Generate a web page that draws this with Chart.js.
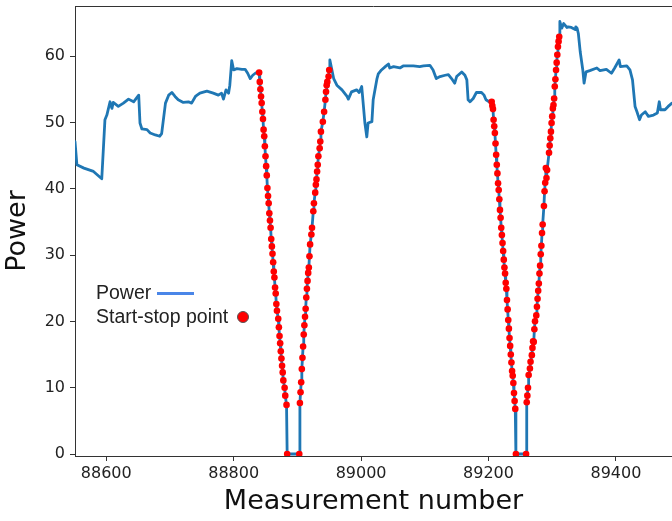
<!DOCTYPE html>
<html>
<head>
<meta charset="utf-8">
<script src="https://cdn.jsdelivr.net/npm/chart.js@4/dist/chart.umd.min.js"></script>
<style>
  html, body { margin: 0; padding: 0; background: #fff; }
  #wrap { position: relative; width: 672px; height: 521px; overflow: hidden; }
  .legend { position: absolute; left: 96px; font-family: 'Liberation Sans', Arial, sans-serif; font-size: 19.5px; color: #222; line-height: 1; white-space: nowrap; }
  .swatch-line { position: absolute; width: 37px; height: 3px; background: #4a86e8; }
  .swatch-dot { position: absolute; width: 12px; height: 12px; border-radius: 50%; background: #ff0000; border: 1px solid #555; box-sizing: border-box; }
</style>
</head>
<body>
<div id="wrap">
  <canvas id="chart" width="672" height="521"></canvas>
  <div class="legend" style="top:283px">Power</div>
  <div class="swatch-line" style="left:157px; top:292px"></div>
  <div class="legend" style="top:307px">Start-stop point</div>
  <div class="swatch-dot" style="left:237px; top:311px"></div>
</div>
<script>
// ── data ────────────────────────────────────────────────

const measurement = [
  88551, 88554, 88565, 88580, 88593, 88598, 88601, 88606, 88609, 88611,
  88619, 88627, 88635, 88643, 88651, 88653, 88656, 88664, 88669, 88677,
  88684, 88687, 88693, 88698, 88703, 88708, 88713, 88721, 88729, 88734,
  88740, 88747, 88758, 88768, 88776, 88781, 88784, 88788, 88792, 88794,
  88797, 88800, 88805, 88813, 88818, 88822, 88826, 88830, 88834, 88838,
  // first stop (down)
  88840, 88841, 88842, 88843, 88844, 88845, 88846, 88847, 88848, 88849,
  88850, 88851, 88852, 88853, 88854, 88855, 88856, 88857, 88858, 88859,
  88860, 88861, 88862, 88863, 88864, 88865, 88866, 88867, 88868, 88870,
  88871, 88872, 88873, 88874, 88875, 88876, 88877, 88878, 88880, 88881,
  88883, 88884, 88903,
  // first start (up)
  88904, 88905, 88906, 88907, 88908, 88909, 88910, 88911, 88912, 88913,
  88914, 88915, 88916, 88917, 88918, 88919, 88920, 88922, 88923, 88925,
  88926, 88928, 88929, 88930, 88931, 88932, 88933, 88935, 88936, 88937,
  88940, 88942, 88944, 88945, 88946, 88947, 88949, 88950,
  88951, 88957, 88962, 88970, 88978, 88980, 88985, 88993, 88997, 89001,
  89004, 89006, 89009, 89011, 89017, 89019, 89025, 89027, 89032, 89038,
  89043, 89045, 89051, 89061, 89066, 89082, 89092, 89098, 89108, 89113,
  89118, 89124, 89132, 89137, 89142, 89147, 89150, 89158, 89163, 89166,
  89168, 89171, 89176, 89181, 89189, 89193, 89196, 89201,
  // second stop (down)
  89205, 89206, 89207, 89208, 89209, 89210, 89211, 89212, 89213, 89214,
  89215, 89216, 89217, 89218, 89219, 89220, 89221, 89222, 89223, 89224,
  89225, 89226, 89227, 89228, 89229, 89230, 89231, 89232, 89233, 89234,
  89235, 89236, 89237, 89238, 89239, 89240, 89241, 89242, 89243, 89259,
  // second start (up)
  89260, 89261, 89262, 89263, 89265, 89266, 89268, 89269, 89270, 89271,
  89272, 89273, 89275, 89276, 89277, 89278, 89279, 89280, 89281, 89282,
  89283, 89284, 89285, 89287, 89288, 89289, 89290, 89291, 89292, 89295,
  89296, 89297, 89298, 89299, 89300, 89301, 89302, 89303, 89304, 89305,
  89306, 89307, 89308, 89309, 89310, 89311,
  89312, 89315, 89318, 89323, 89325, 89330, 89336, 89337, 89339, 89341,
  89344, 89348, 89350, 89353, 89359, 89370, 89375, 89385, 89393, 89398,
  89405, 89407, 89417, 89422, 89426, 89430, 89433, 89437, 89440, 89446,
  89451, 89459, 89465, 89468, 89470, 89477, 89482, 89488
];

const power = [
  47.1, 43.6, 43.1, 42.6, 41.5, 50.4, 51.1, 53.1, 52.1, 53.0,
  52.4, 52.9, 53.5, 53.1, 54.1, 49.9, 49.0, 48.9, 48.4, 48.1,
  47.9, 48.3, 52.9, 54.1, 54.5, 53.9, 53.4, 53.0, 53.1, 52.9,
  53.9, 54.4, 54.7, 54.4, 54.1, 54.4, 53.5, 54.9, 54.4, 55.6,
  59.3, 57.9, 58.1, 58.0, 58.0, 57.4, 56.6, 57.1, 57.4, 57.6,
  57.5, 56.1, 55.0, 53.9, 52.9, 51.6, 50.5, 48.9, 47.9, 46.4,
  44.9, 43.4, 42.0, 40.1, 38.9, 37.8, 36.3, 35.2, 34.1, 32.4,
  31.3, 30.2, 28.9, 27.5, 26.6, 25.1, 24.2, 22.6, 21.6, 20.4,
  19.1, 17.8, 16.7, 15.5, 14.4, 13.3, 12.3, 11.1, 10.0, 8.8,
  7.4, 0, 0,
  7.7, 9.3, 10.8, 12.8, 14.5, 16.2, 18.0, 19.4, 20.7, 21.9,
  23.6, 24.9, 26.1, 27.3, 28.1, 29.8, 31.6, 33.1, 34.1, 36.6,
  37.8, 39.4, 40.6, 41.4, 42.6, 43.6, 44.9, 46.1, 47.1, 48.6,
  50.1, 51.6, 53.4, 54.6, 55.6, 56.1, 56.9, 57.9,
  59.4, 56.6, 55.6, 54.9, 53.9, 53.5, 54.6, 54.9, 54.5, 55.4,
  52.1, 49.9, 47.8, 49.9, 50.1, 53.4, 56.6, 57.3, 57.9, 58.4,
  58.8, 58.2, 58.4, 58.2, 58.5, 58.5, 58.4, 58.5, 58.6, 57.9,
  56.6, 56.9, 57.1, 57.2, 56.6, 55.9, 56.9, 57.6, 57.1, 56.4,
  53.4, 53.1, 53.6, 54.5, 54.5, 54.1, 53.4, 53.1,
  53.1, 52.5, 52.0, 50.4, 49.4, 48.4, 46.8, 45.1, 43.6, 42.3,
  40.8, 39.8, 38.4, 36.8, 35.6, 34.1, 33.0, 31.8, 30.6, 29.3,
  28.1, 27.2, 25.8, 24.9, 23.2, 21.8, 20.2, 18.9, 17.5, 16.3,
  15.0, 13.8, 12.5, 11.8, 10.7, 9.2, 8.0, 6.8, 0, 0,
  7.8, 8.8, 10.0, 11.9, 12.9, 13.9, 14.9, 16.0, 17.0, 16.9,
  18.8, 20.0, 20.9, 22.2, 23.4, 24.6, 25.7, 27.2, 28.4, 30.1,
  31.4, 33.3, 34.6, 37.4, 39.6, 40.9, 43.1, 41.6, 42.8, 45.4,
  46.5, 47.6, 48.6, 49.9, 50.9, 52.1, 52.6, 53.6, 55.4, 56.5,
  57.9, 59.0, 60.2, 61.4, 62.2, 62.9,
  65.2, 64.2, 64.9, 64.3, 64.4, 64.3, 64.0, 64.4, 64.2, 63.4,
  60.6, 57.9, 55.9, 57.6, 57.8, 58.2, 57.8, 58.0, 57.4, 58.2,
  59.4, 58.4, 58.5, 57.9, 56.4, 52.4, 51.6, 50.4, 51.1, 51.6,
  50.9, 51.1, 51.4, 53.1, 51.9, 51.9, 52.4, 52.9
];

// measurement ranges flagged as start-stop points
const startStopRanges = [[88840, 88950], [89205, 89311]];

const xTicks = [88600, 88800, 89000, 89200, 89400];
const yTicks = [0, 10, 20, 30, 40, 50, 60];

// ── build chart ─────────────────────────

const linePoints = measurement.map((m, i) => ({ x: m, y: power[i] }));
const stopPoints = linePoints.filter(p =>
  startStopRanges.some(([a, b]) => p.x >= a && p.x <= b));

const frame = {
  id: 'frame',
  afterDraw(chart) {
    const { ctx, chartArea: a } = chart;
    ctx.save();
    ctx.strokeStyle = '#333';
    ctx.lineWidth = 1;
    ctx.beginPath();
    ctx.moveTo(a.left, a.top + 0.5);
    ctx.lineTo(a.right, a.top + 0.5);
    ctx.stroke();
    ctx.restore();
  }
};

const tickFont = { family: "'DejaVu Sans', sans-serif", size: 16 };
const titleFont = { family: "'DejaVu Sans', sans-serif", size: 27 };

new Chart(document.getElementById('chart'), {
  type: 'scatter',
  data: {
    datasets: [
      {
        label: 'Start-stop point',
        data: stopPoints,
        order: 0,
        showLine: false,
        pointRadius: 3.3,
        pointHoverRadius: 3.3,
        pointBackgroundColor: '#ff0000',
        pointBorderWidth: 0,
      },
      {
        label: 'Power',
        data: linePoints,
        order: 1,
        showLine: true,
        borderColor: '#1f77b4',
        borderWidth: 2.8,
        borderJoinStyle: 'round',
        borderCapStyle: 'round',
        tension: 0,
        pointRadius: 0,
      }
    ]
  },
  options: {
    responsive: false,
    animation: false,
    devicePixelRatio: 1,
    layout: { autoPadding: false, padding: { top: 6, right: 0, bottom: 0, left: 0 } },
    plugins: { legend: { display: false }, tooltip: { enabled: false } },
    scales: {
      x: {
        type: 'linear',
        min: 88551,
        max: 89488,
        afterFit: s => { s.height = 65; s.paddingLeft = 0; s.paddingRight = 0; },
        afterBuildTicks: s => { s.ticks = xTicks.map(v => ({ value: v })); },
        grid: { drawOnChartArea: false, drawTicks: true, tickLength: 5, tickColor: '#333' },
        border: { display: true, color: '#333', width: 1 },
        ticks: { color: '#222', font: tickFont, padding: 3, maxRotation: 0, callback: v => String(v) },
        title: { display: true, text: 'Measurement number', color: '#111', font: titleFont, padding: { top: 0, bottom: 3 } }
      },
      y: {
        min: -0.3,
        max: 67.54,
        afterFit: s => { s.width = 75; s.paddingTop = 0; s.paddingBottom = 0; },
        afterBuildTicks: s => { s.ticks = yTicks.map(v => ({ value: v })); },
        grid: { drawOnChartArea: false, drawTicks: true, tickLength: 5, tickColor: '#333' },
        border: { display: true, color: '#333', width: 1 },
        ticks: { color: '#222', font: tickFont, padding: 5, callback: v => String(v) },
        title: { display: true, text: 'Power', color: '#111', font: titleFont, padding: { top: 2, bottom: 0 } }
      }
    }
  },
  plugins: [frame]
});
</script>
</body>
</html>
